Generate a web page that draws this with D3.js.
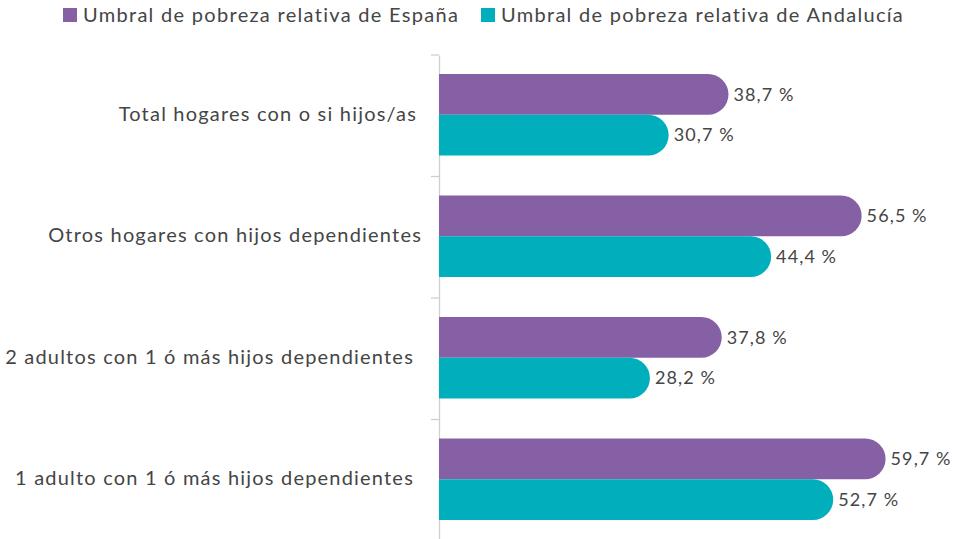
<!DOCTYPE html>
<html>
<head>
<meta charset="utf-8">
<script src="https://cdn.jsdelivr.net/npm/d3@7"></script>
<style>
  body { margin: 0; background: #fff; }
  text { font-family: Lato, "Open Sans", sans-serif; fill: #454545; font-weight: 400; }
</style>
</head>
<body>
<div id="chart-area"></div>
<script>
var categories = [
    "Total hogares con o si hijos/as",
    "Otros hogares con hijos dependientes",
    "2 adultos con 1 ó más hijos dependientes",
    "1 adulto con 1 ó más hijos dependientes"
];
var seriesNames = ["Umbral de pobreza relativa de España", "Umbral de pobreza relativa de Andalucía"];
var espana = [38.7, 56.5, 37.8, 59.7];
var andalucia = [30.7, 44.4, 28.2, 52.7];
var colors = ["#8660a5", "#00afbb"];

var width = 961, height = 539;
var margin = {top: 55, left: 439};

var svg = d3.select("#chart-area")
    .append("svg")
    .attr("width", width)
    .attr("height", height);

var x = d3.scaleLinear().domain([0, 60]).range([0, 60 * 7.48]);
var y = d3.scaleBand().domain(categories).range([0, 486]).paddingInner(0).paddingOuter(0);
var y1 = d3.scaleBand().domain([0, 1]).range([19, y.bandwidth() - 21]);

var g = svg.append("g").attr("transform", "translate(" + margin.left + "," + margin.top + ")");

// axis
var yAxis = d3.axisLeft(y).tickSize(0).tickFormat("");
var axisG = g.append("g").call(yAxis);
axisG.select(".domain").attr("stroke", "#cfcfcf").attr("stroke-width", 1.3);
g.selectAll(".sep")
    .data(d3.range(categories.length + 1))
    .enter().append("line")
    .attr("x1", -8).attr("x2", 0)
    .attr("y1", (d) => d * y.step()).attr("y2", (d) => d * y.step())
    .attr("stroke", "#cfcfcf").attr("stroke-width", 1.3);

// category labels
var catEnd = [-22, -17, -25, -25];
g.selectAll(".cat")
    .data(categories)
    .enter().append("text")
    .attr("class", "cat")
    .attr("x", (d, i) => catEnd[i])
    .attr("y", (d) => y(d) + y.bandwidth() / 2 - 2)
    .attr("dy", "0.35em")
    .attr("text-anchor", "end")
    .attr("font-size", "20px")
    .attr("letter-spacing", "1.2px")
    .text((d) => d);

// bars
var data = [];
categories.forEach((c, i) => {
    data.push({cat: c, s: 0, v: espana[i]});
    data.push({cat: c, s: 1, v: andalucia[i]});
});

function barPath(d) {
    var w = x(d.v), h = y1.bandwidth(), r = h / 2;
    var y0 = y(d.cat) + y1(d.s);
    return "M0," + y0 + "H" + (w - r) +
        "A" + r + "," + r + " 0 0 1 " + (w - r) + "," + (y0 + h) +
        "H0Z";
}

g.selectAll(".bar")
    .data(data)
    .enter().append("path")
    .attr("class", "bar")
    .attr("d", barPath)
    .attr("fill", (d) => colors[d.s]);

g.selectAll(".val")
    .data(data)
    .enter().append("text")
    .attr("class", "val")
    .attr("x", (d) => x(d.v) + 5)
    .attr("y", (d) => y(d.cat) + y1(d.s) + y1.bandwidth() / 2)
    .attr("dy", "0.35em")
    .attr("font-size", "18px")
    .attr("letter-spacing", "1.1px")
    .text((d) => d.v.toFixed(1).replace(".", ",") + " %");

// legend
var legendX = [63, 481];
var legend = svg.selectAll(".legend")
    .data(seriesNames)
    .enter().append("g")
    .attr("transform", (d, i) => "translate(" + legendX[i] + ",8)");
legend.append("rect")
    .attr("width", 14).attr("height", 14)
    .attr("fill", (d, i) => colors[i]);
legend.append("text")
    .attr("x", 20).attr("y", 7)
    .attr("dy", "0.35em")
    .attr("font-size", "20px")
    .attr("letter-spacing", "1.3px")
    .text((d) => d);
</script>
</body>
</html>
